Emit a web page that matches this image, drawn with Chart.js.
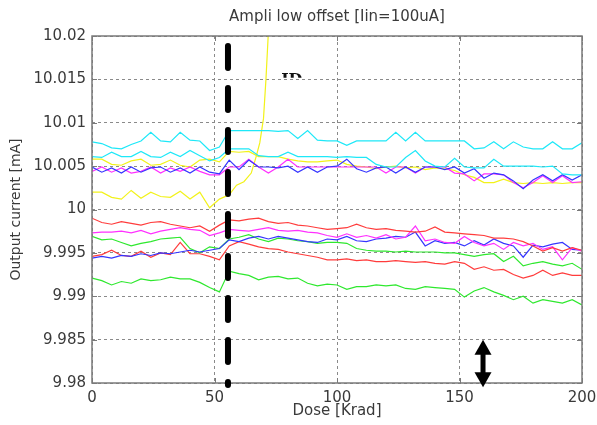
<!DOCTYPE html>
<html>
<head>
<meta charset="utf-8">
<script src="https://cdn.jsdelivr.net/npm/chart.js@4.4.1/dist/chart.umd.min.js"></script>
<style>
  html, body { margin: 0; padding: 0; background: #fff; }
  canvas { display: block; }
</style>
</head>
<body>
<canvas id="c" width="597" height="425"></canvas>
<script>
// ---------------- data ----------------
const titleText = 'Ampli low offset [Iin=100uA]';
const xLabel = 'Dose [Krad]';
const yLabel = 'Output current [mA]';
const xTicks = [0, 50, 100, 150, 200];
const yTicks = [9.98, 9.985, 9.99, 9.995, 10, 10.005, 10.01, 10.015, 10.02];

const dose = [0,4,8,12,16,20,24,28,32,36,40,44,48,52,56,60,64,68,72,76,80,84,88,92,96,100,
  104,108,112,116,120,124,128,132,136,140,144,148,152,156,160,164,168,172,176,180,184,188,192,196,200];

const cyanA = [10.0078,10.0076,10.0071,10.0070,10.0075,10.0079,10.0089,10.0079,10.0078,10.0089,10.0080,10.0079,10.0068,10.0072,
  10.0091,10.0091,10.0091,10.0091,10.0091,10.0090,10.0091,10.0082,10.0091,10.0080,
  10.0079,10.0079,10.0074,10.0079,10.0079,10.0079,10.0079,10.0089,10.0079,10.0089,10.0079,10.0079,10.0079,10.0079,
  10.0079,10.0070,10.0071,10.0078,10.0070,10.0078,10.0072,10.0070,10.0070,10.0078,10.0070,10.0070,10.0077];
const cyanB = [10.0061,10.0060,10.0066,10.0061,10.0061,10.0067,10.0061,10.0060,10.0066,10.0061,10.0068,10.0062,10.0056,10.0060,
  10.0070,10.0070,10.0070,10.0062,10.0061,10.0061,10.0066,10.0061,10.0061,10.0061,
  10.0061,10.0060,10.0061,10.0060,10.0060,10.0052,10.0049,10.0049,10.0060,10.0068,10.0056,10.0050,10.0049,10.0059,
  10.0049,10.0048,10.0048,10.0058,10.0050,10.0050,10.0050,10.0050,10.0049,10.0050,10.0041,10.0040,10.0040];
const yellowB = [10.0058,10.0058,10.0052,10.0051,10.0056,10.0058,10.0051,10.0052,10.0057,10.0051,10.0049,10.0057,10.0058,10.0055,
  10.0067,10.0066,10.0067,10.0061,10.0061,10.0061,10.0058,10.0056,10.0055,10.0055,
  10.0056,10.0057,10.0052,10.0050,10.0049,10.0047,10.0049,10.0050,10.0048,10.0049,10.0046,10.0048,10.0047,10.0045,
  10.0040,10.0037,10.0031,10.0031,10.0035,10.0031,10.0030,10.0031,10.0030,10.0031,10.0030,10.0031,10.0031];
const blueA = [10.0049,10.0043,10.0048,10.0042,10.0049,10.0043,10.0048,10.0049,10.0043,10.0048,10.0042,10.0049,10.0043,10.0041,
  10.0057,10.0046,10.0057,10.0049,10.0049,10.0048,10.0050,10.0043,10.0049,10.0043,
  10.0049,10.0050,10.0058,10.0047,10.0043,10.0048,10.0049,10.0042,10.0049,10.0043,10.0049,10.0049,10.0046,10.0049,
  10.0042,10.0047,10.0036,10.0042,10.0040,10.0033,10.0024,10.0034,10.0040,10.0033,10.0040,10.0034,10.0040];
const magentaA = [10.0044,10.0049,10.0043,10.0048,10.0042,10.0044,10.0049,10.0042,10.0048,10.0044,10.0049,10.0044,10.0040,10.0040,
  10.0049,10.0049,10.0058,10.0049,10.0042,10.0049,10.0058,10.0049,10.0049,10.0049,
  10.0049,10.0049,10.0049,10.0049,10.0049,10.0049,10.0042,10.0049,10.0049,10.0042,10.0049,10.0049,10.0049,10.0042,
  10.0041,10.0033,10.0041,10.0041,10.0040,10.0031,10.0025,10.0031,10.0039,10.0031,10.0039,10.0031,10.0032];
const yellowADose = [0,4,8,12,16,20,24,28,32,36,40,44,48,52,56,59,62,65,67,68.5,70,71,72,73];
const yellowA = [10.0020,10.0020,10.0014,10.0012,10.0022,10.0013,10.0020,10.0015,10.0014,10.0021,10.0012,10.0020,10.0002,10.0012,
  10.0017,10.0028,10.0032,10.0042,10.0061,10.0077,10.0105,10.0150,10.0205,10.0250];
const redA = [9.9990,9.9985,9.9983,9.9986,9.9984,9.9982,9.9985,9.9986,9.9983,9.9981,9.9979,9.9981,9.9975,9.9982,
  9.9988,9.9987,9.9989,9.9990,9.9986,9.9984,9.9985,9.9982,9.9981,9.9979,
  9.9977,9.9978,9.9979,9.9983,9.9979,9.9977,9.9978,9.9976,9.9975,9.9974,9.9975,9.9980,9.9974,9.9973,
  9.9972,9.9971,9.9970,9.9967,9.9967,9.9966,9.9963,9.9958,9.9952,9.9956,9.9952,9.9956,9.9953];
const magentaB = [9.9973,9.9974,9.9974,9.9975,9.9973,9.9976,9.9972,9.9975,9.9977,9.9979,9.9977,9.9976,9.9970,9.9973,
  9.9977,9.9976,9.9975,9.9977,9.9979,9.9976,9.9975,9.9976,9.9974,9.9973,
  9.9970,9.9968,9.9972,9.9968,9.9970,9.9967,9.9971,9.9966,9.9968,9.9981,9.9964,9.9966,9.9962,9.9961,
  9.9969,9.9962,9.9958,9.9961,9.9954,9.9962,9.9958,9.9961,9.9954,9.9957,9.9942,9.9956,9.9952];
const greenA = [9.9969,9.9965,9.9966,9.9962,9.9958,9.9961,9.9963,9.9966,9.9967,9.9968,9.9955,9.9950,9.9957,9.9955,
  9.9966,9.9968,9.9971,9.9966,9.9963,9.9967,9.9966,9.9964,9.9963,9.9961,
  9.9962,9.9962,9.9961,9.9955,9.9953,9.9952,9.9952,9.9951,9.9952,9.9951,9.9951,9.9951,9.9950,9.9950,
  9.9948,9.9946,9.9948,9.9949,9.9940,9.9946,9.9935,9.9938,9.9940,9.9937,9.9935,9.9938,9.9931];
const redB = [9.9946,9.9948,9.9953,9.9947,9.9946,9.9952,9.9945,9.9950,9.9948,9.9962,9.9949,9.9949,9.9946,9.9942,
  9.9958,9.9963,9.9960,9.9957,9.9955,9.9954,9.9951,9.9949,9.9947,9.9945,
  9.9942,9.9942,9.9943,9.9941,9.9942,9.9940,9.9940,9.9941,9.9940,9.9939,9.9940,9.9938,9.9937,9.9940,
  9.9938,9.9931,9.9934,9.9930,9.9931,9.9925,9.9921,9.9924,9.9930,9.9924,9.9927,9.9924,9.9924];
const blueB = [9.9944,9.9946,9.9944,9.9947,9.9946,9.9949,9.9947,9.9950,9.9949,9.9951,9.9953,9.9951,9.9953,9.9955,
  9.9965,9.9963,9.9967,9.9969,9.9966,9.9969,9.9967,9.9965,9.9963,9.9962,
  9.9966,9.9965,9.9969,9.9964,9.9963,9.9966,9.9967,9.9969,9.9968,9.9974,9.9958,9.9964,9.9961,9.9962,
  9.9958,9.9964,9.9959,9.9966,9.9961,9.9958,9.9945,9.9959,9.9957,9.9960,9.9962,9.9954,9.9953];
const greenB = [9.9921,9.9918,9.9913,9.9917,9.9915,9.9920,9.9918,9.9919,9.9922,9.9920,9.9920,9.9916,9.9910,9.9905,
  9.9929,9.9926,9.9924,9.9919,9.9922,9.9923,9.9920,9.9921,9.9915,9.9912,
  9.9914,9.9913,9.9908,9.9911,9.9911,9.9913,9.9912,9.9913,9.9909,9.9908,9.9911,9.9910,9.9909,9.9908,
  9.9899,9.9906,9.9910,9.9905,9.9901,9.9896,9.9900,9.9892,9.9896,9.9894,9.9892,9.9896,9.9890];

// annotations (data units)
const markerDose = 55.5, markerTop = 10.01885, markerBottom = 9.97977;
const arrowDose = 159.6, arrowTop = 9.985, arrowBottom = 9.9795;
const idText = 'ID', idDose = 77.2, idValue = 10.0152;

// ---------------- chart ----------------
const FONT = '"DejaVu Sans", "Liberation Sans", sans-serif';
const TXT = '#3a3a3a';
const C = { cyan: '#1ee8f8', yellow: '#f2f21a', blue: '#3535ff', magenta: '#ff30ff', red: '#ff3c3c', green: '#2ee82e' };

function pts(xs, ys) { return ys.map((v, i) => ({ x: xs[i], y: v })); }
const series = [
  [cyanA, dose, C.cyan], [cyanB, dose, C.cyan], [blueA, dose, C.blue], [magentaA, dose, C.magenta],
  [yellowB, dose, C.yellow], [yellowA, yellowADose, C.yellow],
  [redA, dose, C.red], [magentaB, dose, C.magenta], [blueB, dose, C.blue], [greenA, dose, C.green],
  [redB, dose, C.red], [greenB, dose, C.green]
];

const overlay = {
  id: 'overlay',
  afterDatasetsDraw(chart) {
    const { ctx, chartArea: a, scales: { x, y } } = chart;
    ctx.save();
    // title centred over the plot area
    ctx.fillStyle = TXT;
    ctx.font = '15px ' + FONT;
    ctx.textAlign = 'center';
    ctx.textBaseline = 'middle';
    ctx.fillText(titleText, (a.left + a.right) / 2, 17);

    // frame
    ctx.strokeStyle = '#7a7a7a';
    ctx.lineWidth = 1.5;
    ctx.strokeRect(a.left, a.top, a.right - a.left, a.bottom - a.top);
    // inward ticks
    ctx.lineWidth = 1;
    ctx.beginPath();
    xTicks.forEach(v => {
      const p = Math.round(x.getPixelForValue(v)) + 0.5;
      ctx.moveTo(p, a.bottom); ctx.lineTo(p, a.bottom - 5);
      ctx.moveTo(p, a.top); ctx.lineTo(p, a.top + 5);
    });
    yTicks.forEach(v => {
      const p = Math.round(y.getPixelForValue(v)) + 0.5;
      ctx.moveTo(a.left, p); ctx.lineTo(a.left + 5, p);
      ctx.moveTo(a.right, p); ctx.lineTo(a.right - 5, p);
    });
    ctx.stroke();

    // thick dashed marker line
    const mx = x.getPixelForValue(markerDose);
    ctx.strokeStyle = '#000';
    ctx.lineWidth = 6;
    ctx.lineCap = 'round';
    ctx.setLineDash([22, 20]);
    ctx.beginPath();
    ctx.moveTo(mx, y.getPixelForValue(markerTop));
    ctx.lineTo(mx, y.getPixelForValue(markerBottom));
    ctx.stroke();
    ctx.setLineDash([]);

    // double arrow
    const ax = x.getPixelForValue(arrowDose);
    const t = y.getPixelForValue(arrowTop), b = y.getPixelForValue(arrowBottom);
    const hl = 15, hw = 8.5;
    ctx.fillStyle = '#000';
    ctx.fillRect(ax - 2.5, t + hl - 1, 5, (b - hl + 1) - (t + hl - 1));
    ctx.beginPath();
    ctx.moveTo(ax, t); ctx.lineTo(ax + hw, t + hl); ctx.lineTo(ax - hw, t + hl); ctx.closePath();
    ctx.fill();
    ctx.beginPath();
    ctx.moveTo(ax, b); ctx.lineTo(ax + hw, b - hl); ctx.lineTo(ax - hw, b - hl); ctx.closePath();
    ctx.fill();

    // partially hidden label
    const ix = x.getPixelForValue(idDose), iy = y.getPixelForValue(idValue);
    ctx.beginPath();
    ctx.rect(ix - 3, iy - 8, 30, 8);
    ctx.clip();
    ctx.fillStyle = '#111';
    ctx.font = 'bold 16px "DejaVu Serif", serif';
    ctx.textAlign = 'left';
    ctx.textBaseline = 'alphabetic';
    ctx.fillText(idText, ix, iy + 7);
    ctx.restore();
  }
};

new Chart(document.getElementById('c'), {
  type: 'line',
  data: {
    datasets: series.map(([v, xs, col]) => ({
      data: pts(xs, v),
      borderColor: col,
      borderWidth: 1.2,
      pointRadius: 0,
      tension: 0,
      fill: false
    }))
  },
  options: {
    responsive: false,
    animation: false,
    devicePixelRatio: 1,
    layout: { padding: { left: 0, right: 15, top: 36, bottom: 0 } },
    plugins: {
      legend: { display: false },
      tooltip: { enabled: false },
      title: { display: false }
    },
    scales: {
      x: {
        type: 'linear', min: 0, max: 200,
        afterFit(s) { s.height = 42; s.paddingRight = 0; s.paddingLeft = 0; },
        afterBuildTicks(s) { s.ticks = xTicks.map(v => ({ value: v })); },
        ticks: { color: TXT, font: { family: FONT, size: 15 }, padding: 6, maxRotation: 0 },
        grid: { color: '#8a8a8a', lineWidth: 1, drawTicks: false },
        border: { display: false, dash: [3, 3] },
        title: { display: true, text: xLabel, color: TXT, font: { family: FONT, size: 15 }, padding: { top: 0, bottom: 5 } }
      },
      y: {
        type: 'linear', min: 9.98, max: 10.02,
        afterFit(s) { s.width = 92; s.paddingTop = 0; s.paddingBottom = 0; },
        afterBuildTicks(s) { s.ticks = yTicks.map(v => ({ value: v })); },
        ticks: {
          color: TXT, font: { family: FONT, size: 15 }, padding: 6,
          callback: v => String(parseFloat(Number(v).toFixed(4)))
        },
        grid: { color: '#8a8a8a', lineWidth: 1, drawTicks: false },
        border: { display: false, dash: [3, 3] },
        title: { display: true, text: yLabel, color: TXT, font: { family: FONT, size: 14 }, padding: { top: 8, bottom: 0 } }
      }
    }
  },
  plugins: [overlay]
});
</script>
</body>
</html>
